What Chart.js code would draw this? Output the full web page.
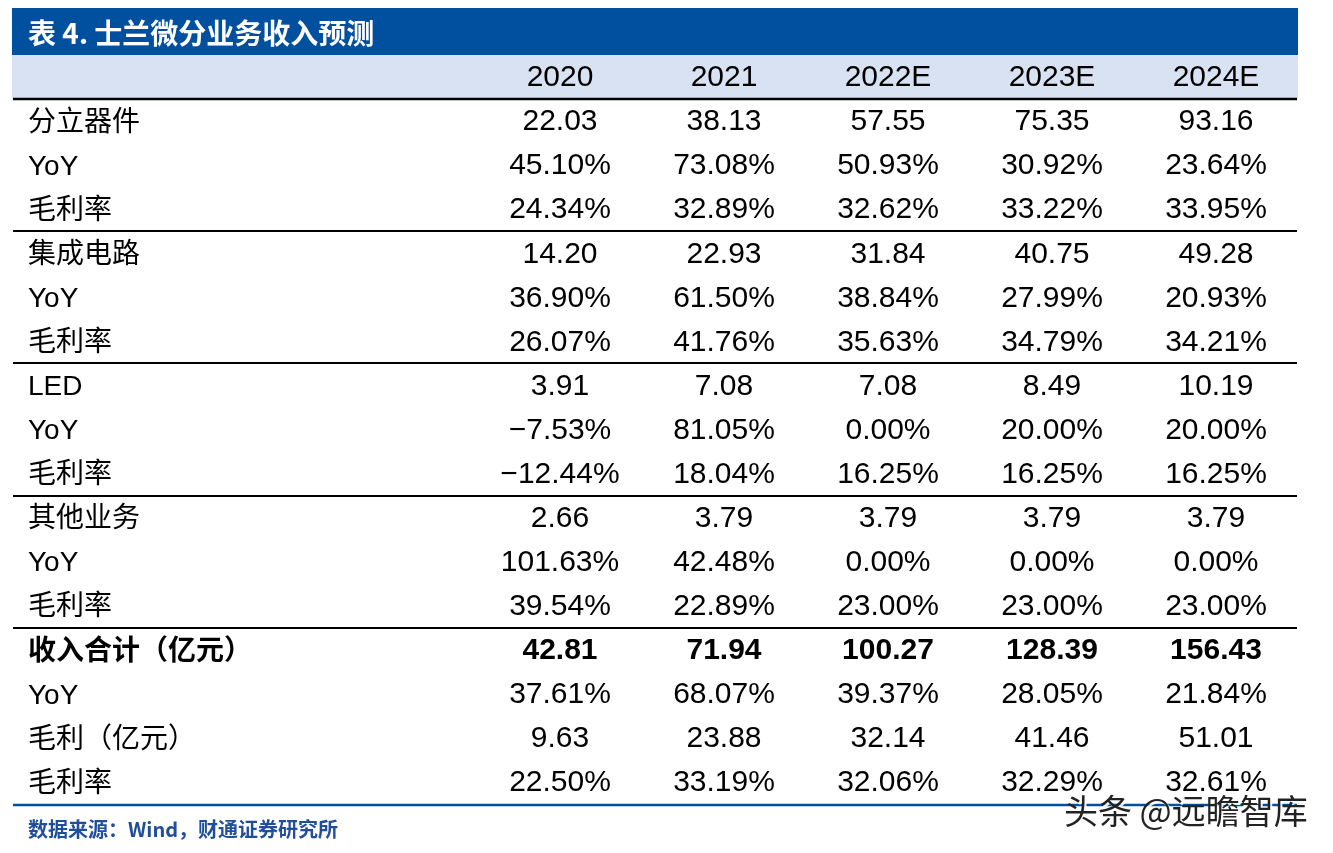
<!DOCTYPE html>
<html>
<head>
<meta charset="utf-8">
<script src="https://cdn.jsdelivr.net/npm/chart.js@4/dist/chart.umd.min.js"></script>
<style>
  html, body { margin: 0; padding: 0; background: #fff; }
  #wrap { width: 1333px; height: 853px; position: relative; }
</style>
</head>
<body>
<div id="wrap"><canvas id="tbl"></canvas></div>
<script>
// ── 数据 ───────────────────────────────────────────────
const years = ['2020', '2021', '2022E', '2023E', '2024E'];

const rowLabels = [
  '分立器件', 'YoY', '毛利率',
  '集成电路', 'YoY', '毛利率',
  'LED', 'YoY', '毛利率',
  '其他业务', 'YoY', '毛利率',
  '收入合计（亿元）', 'YoY', '毛利（亿元）', '毛利率'
];

const discreteRev = [22.03, 38.13, 57.55, 75.35, 93.16];
const discreteYoy = [45.10, 73.08, 50.93, 30.92, 23.64];
const discreteGm  = [24.34, 32.89, 32.62, 33.22, 33.95];

const icRev = [14.20, 22.93, 31.84, 40.75, 49.28];
const icYoy = [36.90, 61.50, 38.84, 27.99, 20.93];
const icGm  = [26.07, 41.76, 35.63, 34.79, 34.21];

const ledRev = [3.91, 7.08, 7.08, 8.49, 10.19];
const ledYoy = [-7.53, 81.05, 0.00, 20.00, 20.00];
const ledGm  = [-12.44, 18.04, 16.25, 16.25, 16.25];

const otherRev = [2.66, 3.79, 3.79, 3.79, 3.79];
const otherYoy = [101.63, 42.48, 0.00, 0.00, 0.00];
const otherGm  = [39.54, 22.89, 23.00, 23.00, 23.00];

const totalRev    = [42.81, 71.94, 100.27, 128.39, 156.43];
const totalYoy    = [37.61, 68.07, 39.37, 28.05, 21.84];
const totalProfit = [9.63, 23.88, 32.14, 41.46, 51.01];
const totalGm     = [22.50, 33.19, 32.06, 32.29, 32.61];

// 每行: [数值, 是否百分比]
const rowValues = [
  [discreteRev, false], [discreteYoy, true], [discreteGm, true],
  [icRev, false], [icYoy, true], [icGm, true],
  [ledRev, false], [ledYoy, true], [ledGm, true],
  [otherRev, false], [otherYoy, true], [otherGm, true],
  [totalRev, false], [totalYoy, true], [totalProfit, false], [totalGm, true]
];
const boldRow = 12;
const groupEnds = [2, 5, 8, 11];   // 分组后画黑线

// ── 样式 ───────────────────────────────────────────────
const NAVY   = '#00509F';
const BAND   = '#D9E2F3';
const FONT   = '"Liberation Sans", Arial, "Noto Sans CJK SC", sans-serif';
const CJK    = '"Noto Sans CJK SC", "Liberation Sans", sans-serif';

function fmt(v, pct) {
  const s = Math.abs(v).toFixed(2) + (pct ? '%' : '');
  return (v < 0 ? '\u2212' : '') + s;
}

// 纵轴: 'header' = 表头(年份), 其余为数据行 (键唯一, 避免重复标签)
const rowKeys = rowLabels.map((lab, r) => r + ':' + lab);
const yLabels = ['header'].concat(rowKeys);

const datasets = rowValues.map(([vals, pct], r) => ({
  label: rowLabels[r],
  data: vals.map((v, c) => ({ x: years[c], y: rowKeys[r], txt: fmt(v, pct) })),
  pointRadius: 0,
  showLine: false
}));

const tablePlugin = {
  id: 'tablePlugin',
  beforeDraw(chart) {
    const { ctx, chartArea, scales: { y } } = chart;
    const L = 12, R = 1297;
    const rowH = y.getPixelForValue(1) - y.getPixelForValue(0);
    ctx.save();
    // 标题栏
    ctx.fillStyle = NAVY;
    ctx.fillRect(L, 8, R - L + 1, chartArea.top - 8);
    ctx.fillStyle = '#fff';
    ctx.font = 'bold 28px ' + CJK;
    ctx.textBaseline = 'middle';
    ctx.fillText('表 4. 士兰微分业务收入预测', 28, 33);
    // 表头底色
    const headBottom = y.getPixelForValue(0) + rowH / 2;
    ctx.fillStyle = BAND;
    ctx.fillRect(L, chartArea.top, R - L + 1, headBottom - chartArea.top);
    // 黑色分隔线
    ctx.strokeStyle = '#000';
    ctx.lineWidth = 2.5;
    ctx.beginPath();
    ctx.moveTo(L + 1, headBottom); ctx.lineTo(R, headBottom);
    ctx.stroke();
    ctx.lineWidth = 2;
    groupEnds.forEach(r => {
      const yy = Math.round(y.getPixelForValue(r + 1) + rowH / 2);
      ctx.beginPath();
      ctx.moveTo(L + 1, yy); ctx.lineTo(R, yy);
      ctx.stroke();
    });
    // 底部蓝线
    ctx.strokeStyle = NAVY;
    ctx.lineWidth = 2.5;
    ctx.beginPath();
    ctx.moveTo(L + 1, chartArea.bottom + 1); ctx.lineTo(R, chartArea.bottom + 1);
    ctx.stroke();
    ctx.restore();
  },
  afterDatasetsDraw(chart) {
    const { ctx, scales: { x, y } } = chart;
    ctx.save();
    ctx.textBaseline = 'middle';
    ctx.fillStyle = '#000';
    // 年份
    ctx.textAlign = 'center';
    ctx.font = '30px ' + FONT;
    years.forEach((yr, c) => ctx.fillText(yr, x.getPixelForValue(c), y.getPixelForValue(0) + 1));
    // 行标签
    ctx.textAlign = 'left';
    rowLabels.forEach((lab, r) => {
      ctx.font = (r === boldRow ? 'bold ' : '') + '28px ' + FONT;
      ctx.fillText(lab, 28, y.getPixelForValue(r + 1) + 2);
    });
    // 数值
    ctx.textAlign = 'center';
    chart.data.datasets.forEach((ds, r) => {
      const meta = chart.getDatasetMeta(r);
      ctx.font = (r === boldRow ? 'bold ' : '') + '30px ' + FONT;
      meta.data.forEach((pt, i) => ctx.fillText(ds.data[i].txt, pt.x, pt.y + 1));
    });
    // 资料来源
    ctx.textAlign = 'left';
    ctx.fillStyle = '#1F4E9B';
    ctx.font = 'bold 20px ' + CJK;
    ctx.fillText('数据来源：Wind，财通证券研究所', 28, 829);
    // 水印
    ctx.font = '34px ' + CJK;
    ctx.fillStyle = 'rgba(255,255,255,0.9)';
    ctx.fillText('头条 @远瞻智库', 1066, 813);
    ctx.fillStyle = '#222';
    ctx.fillText('头条 @远瞻智库', 1064, 811);
    ctx.restore();
  }
};

new Chart(document.getElementById('tbl'), {
  type: 'scatter',
  data: { datasets },
  options: {
    responsive: true,
    maintainAspectRatio: false,
    animation: false,
    events: [],
    layout: { padding: { left: 478, right: 35, top: 55, bottom: 49 } },
    plugins: { legend: { display: false }, tooltip: { enabled: false } },
    scales: {
      x: { type: 'category', labels: years, offset: true, display: false },
      y: { type: 'category', labels: yLabels, offset: true, display: false }
    }
  },
  plugins: [tablePlugin]
});
</script>
</body>
</html>
